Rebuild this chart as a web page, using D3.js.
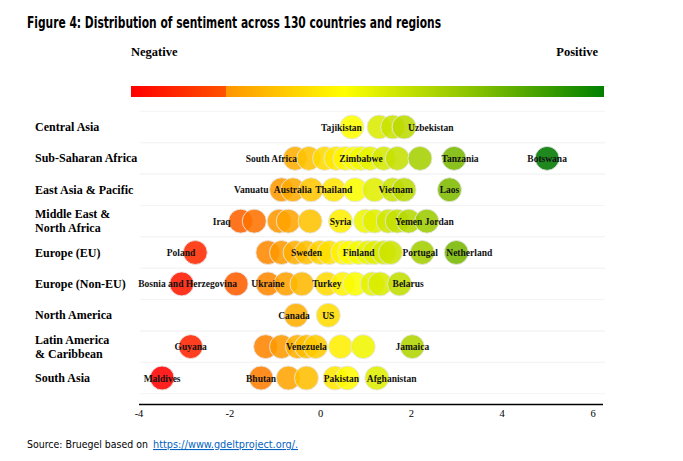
<!DOCTYPE html>
<html>
<head>
<meta charset="utf-8">
<script src="https://cdn.jsdelivr.net/npm/d3@7"></script>
<style>
  html, body { margin: 0; padding: 0; background: #fff; }
  svg { display: block; }
</style>
</head>
<body>
<svg id="chart" width="683" height="461"></svg>
<script>
// ---------------- DATA ----------------
const titleText = "Figure 4: Distribution of sentiment across 130 countries and regions";
const sourcePrefix = "Source: Bruegel based on";
const sourceLink = "https://www.gdeltproject.org/.";

const regions = [
  "Central Asia", "Sub-Saharan Africa", "East Asia & Pacific", "Middle East & North Africa",
  "Europe (EU)", "Europe (Non-EU)", "North America", "Latin America & Caribbean", "South Asia"
];
const regionLines = [
  ["Central Asia"], ["Sub-Saharan Africa"], ["East Asia & Pacific"], ["Middle East &", "North Africa"],
  ["Europe (EU)"], ["Europe (Non-EU)"], ["North America"], ["Latin America", "& Caribbean"], ["South Asia"]
];

const xTicks = [-4, -2, 0, 2, 4, 6];

// country sentiment per region ("" = unlabelled country)
const centralAsia = [
  {c: "Tajikistan", v: 0.7}, {c: "", v: 1.3}, {c: "", v: 1.6}, {c: "Uzbekistan", v: 1.85}
];
const subSaharanAfrica = [
  {c: "South Africa", v: -0.55}, {c: "", v: -0.25}, {c: "", v: 0.1}, {c: "", v: 0.35},
  {c: "", v: 0.55}, {c: "", v: 0.75}, {c: "Zimbabwe", v: 0.9}, {c: "", v: 1.1},
  {c: "", v: 1.4}, {c: "", v: 1.7}, {c: "", v: 2.2}, {c: "Tanzania", v: 2.95}, {c: "Botswana", v: 5.0}
];
const eastAsiaPacific = [
  {c: "Vanuatu", v: -0.85}, {c: "Australia", v: -0.6}, {c: "", v: -0.2}, {c: "Thailand", v: 0.3},
  {c: "", v: 0.77}, {c: "", v: 1.2}, {c: "Vietnam", v: 1.6}, {c: "", v: 1.85}, {c: "Laos", v: 2.85}
];
const middleEastNorthAfrica = [
  {c: "Iraq", v: -1.75}, {c: "", v: -1.45}, {c: "", v: -0.9}, {c: "", v: -0.7},
  {c: "", v: -0.22}, {c: "Syria", v: 0.45}, {c: "", v: 1.0}, {c: "", v: 1.2},
  {c: "", v: 1.5}, {c: "", v: 1.7}, {c: "Yemen", v: 1.95}, {c: "Jordan", v: 2.35}
];
const europeEU = [
  {c: "Poland", v: -2.75}, {c: "", v: -1.15}, {c: "", v: -0.85}, {c: "", v: -0.55},
  {c: "Sweden", v: -0.3}, {c: "", v: 0.0}, {c: "", v: 0.2}, {c: "", v: 0.5},
  {c: "", v: 0.65}, {c: "Finland", v: 0.85}, {c: "", v: 1.05}, {c: "", v: 1.2},
  {c: "", v: 1.4}, {c: "", v: 1.55}, {c: "Portugal", v: 2.25}, {c: "Netherland", v: 3.0}
];
const europeNonEU = [
  {c: "Bosnia and Herzegovina", v: -3.05}, {c: "", v: -1.85}, {c: "Ukraine", v: -1.15},
  {c: "", v: -0.75}, {c: "", v: -0.4}, {c: "Turkey", v: 0.15}, {c: "", v: 0.5},
  {c: "", v: 0.77}, {c: "", v: 1.15}, {c: "", v: 1.32}, {c: "Belarus", v: 1.75}
];
const northAmerica = [
  {c: "Canada", v: -0.53}, {c: "US", v: 0.18}
];
const latinAmericaCaribbean = [
  {c: "Guyana", v: -2.85}, {c: "", v: -1.2}, {c: "", v: -0.85}, {c: "", v: -0.5},
  {c: "Venezuela", v: -0.3}, {c: "", v: -0.1}, {c: "", v: 0.45}, {c: "", v: 0.95},
  {c: "Jamaica", v: 2.03}
];
const southAsia = [
  {c: "Maldives", v: -3.48}, {c: "Bhutan", v: -1.3}, {c: "", v: -0.7}, {c: "", v: -0.3},
  {c: "", v: 0.33}, {c: "Pakistan", v: 0.6}, {c: "Afghanistan", v: 1.25}
];

const regionData = [
  centralAsia, subSaharanAfrica, eastAsiaPacific, middleEastNorthAfrica,
  europeEU, europeNonEU, northAmerica, latinAmericaCaribbean, southAsia
];

// ---------------- LABEL PLACEMENT (layout, not data) ----------------
const labelPlacement = {
  "Tajikistan": ["end", 10], "Uzbekistan": ["start", 4], "South Africa": ["end", 2],
  "Zimbabwe": ["middle", 0], "Tanzania": ["middle", 6], "Botswana": ["middle", 0],
  "Vanuatu": ["end", -13], "Australia": ["middle", 0], "Thailand": ["middle", 0],
  "Vietnam": ["middle", 3], "Laos": ["middle", 0], "Iraq": ["end", -10],
  "Syria": ["middle", 0], "Yemen": ["middle", 0], "Jordan": ["start", -2],
  "Poland": ["end", 0], "Sweden": ["middle", 0], "Finland": ["middle", 0],
  "Portugal": ["middle", -2], "Netherland": ["start", -10],
  "Bosnia and Herzegovina": ["middle", 6], "Ukraine": ["middle", 0], "Turkey": ["middle", 0],
  "Belarus": ["start", -7], "Canada": ["middle", -2], "US": ["middle", 0],
  "Guyana": ["middle", 0], "Venezuela": ["middle", 0], "Jamaica": ["middle", 0],
  "Maldives": ["middle", 0], "Bhutan": ["middle", 0], "Pakistan": ["middle", -6],
  "Afghanistan": ["start", -10]
};

// ---------------- DRAW ----------------
const svg = d3.select("#chart");
const serif = "'Liberation Serif', 'Times New Roman', 'DejaVu Serif', serif";
const narrow = "'Liberation Sans Narrow', 'Arial Narrow', 'DejaVu Sans Condensed', 'Roboto', sans-serif";

// fit a text to a target width by adjusting its font size (then tiny textLength tweak)
function fitText(sel, target) {
  const fs = +sel.attr("font-size");
  const w = sel.node().getComputedTextLength();
  if (w > 0) sel.attr("font-size", (fs * target / w).toFixed(2));
  return sel;
}

// Title
const title = svg.append("text")
  .attr("x", 27).attr("y", 28)
  .attr("font-family", narrow).attr("font-weight", "bold").attr("font-size", 15)
  .attr("fill", "#000")
  .text(titleText);
const tw = title.node().getComputedTextLength();
if (tw > 414) {
  title.attr("textLength", 414).attr("lengthAdjust", "spacingAndGlyphs");
}

// Scales
const x = d3.scaleLinear().domain([-4, 6.22]).range([138.5, 602.5]);
const y = d3.scalePoint().domain(regions).range([127, 378]);
const color = d3.scaleLinear()
  .domain([-3.5, -1.5, 0.7, 5])
  .range(["#ff0000", "#ff7000", "#ffff00", "#007800"])
  .clamp(true);

// Negative / Positive legend with gradient bar
svg.append("text").attr("x", 131).attr("y", 56)
  .attr("font-family", serif).attr("font-weight", "bold").attr("font-size", 12.5)
  .text("Negative");
svg.append("text").attr("x", 598).attr("y", 56).attr("text-anchor", "end")
  .attr("font-family", serif).attr("font-weight", "bold").attr("font-size", 12.5)
  .text("Positive");

const defs = svg.append("defs");
const grad = defs.append("linearGradient").attr("id", "sentGrad")
  .attr("x1", "0%").attr("x2", "100%").attr("y1", "0%").attr("y2", "0%");
[[0, "#ff0000"], [0.2, "#ff5200"], [0.2, "#ff9400"], [0.45, "#ffff00"], [0.75, "#7cbc00"], [1, "#008000"]]
  .forEach(([o, c]) => grad.append("stop").attr("offset", o).attr("stop-color", c));
svg.append("rect").attr("x", 131).attr("y", 86).attr("width", 473).attr("height", 11)
  .attr("fill", "url(#sentGrad)");

// faint row separators
const step = y.step();
regions.forEach(r => {
  [y(r) - step / 2, y(r) + step / 2].forEach(yy => {
    svg.append("line").attr("x1", 140).attr("x2", 605)
      .attr("y1", yy).attr("y2", yy)
      .attr("stroke", "#f4f4f4").attr("stroke-width", 1);
  });
});

// Region labels
regions.forEach((r, i) => {
  const lines = regionLines[i];
  const t = svg.append("text")
    .attr("x", 35)
    .attr("font-family", serif).attr("font-weight", "bold").attr("font-size", 12)
    .attr("fill", "#000");
  const lh = 14;
  lines.forEach((ln, j) => {
    t.append("tspan").attr("x", 35)
      .attr("y", y(r) + 4 - (lines.length - 1) * lh / 2 + j * lh)
      .text(ln);
  });
});

// Circles
const R = 12;
const gC = svg.append("g");
regions.forEach((r, i) => {
  const pts = regionData[i].slice().sort((a, b) => a.v - b.v);
  gC.selectAll(null).data(pts).enter().append("circle")
    .attr("cx", d => x(d.v)).attr("cy", y(r)).attr("r", R)
    .attr("fill", d => color(d.v)).attr("fill-opacity", 0.88)
    .attr("stroke", "#e6e6e6").attr("stroke-opacity", 0.9).attr("stroke-width", 1);
});

// Country labels
const gL = svg.append("g");
regions.forEach((r, i) => {
  const pts = regionData[i].filter(d => d.c !== "");
  gL.selectAll(null).data(pts).enter().append("text")
    .attr("x", d => x(d.v) + (labelPlacement[d.c] ? labelPlacement[d.c][1] : 0))
    .attr("y", y(r) + 3.5)
    .attr("text-anchor", d => labelPlacement[d.c] ? labelPlacement[d.c][0] : "middle")
    .attr("font-family", serif).attr("font-weight", "bold").attr("font-size", 9.5)
    .attr("fill", "#111")
    .text(d => d.c);
});

// X axis
const axisY = 404;
const axis = d3.axisBottom(x).tickValues(xTicks).tickSize(0).tickPadding(6)
  .tickFormat(d => d < 0 ? "-" + Math.abs(d) : String(d));
const gA = svg.append("g").attr("transform", `translate(0,${axisY})`).call(axis);
gA.select(".domain").attr("stroke", "#000").attr("stroke-width", 1.5);
gA.selectAll(".tick text").attr("font-family", serif).attr("font-size", 10.5).attr("fill", "#000");

// Source
const s1 = svg.append("text").attr("x", 27).attr("y", 448)
  .attr("font-family", narrow).attr("font-size", 12.5).attr("fill", "#000")
  .text(sourcePrefix);
fitText(s1, 121);
const s2 = svg.append("text").attr("x", 153).attr("y", 448)
  .attr("font-family", narrow).attr("font-size", 12.5).attr("fill", "#0563c1")
  .attr("text-decoration", "underline")
  .text(sourceLink);
fitText(s2, 145);
</script>
</body>
</html>
